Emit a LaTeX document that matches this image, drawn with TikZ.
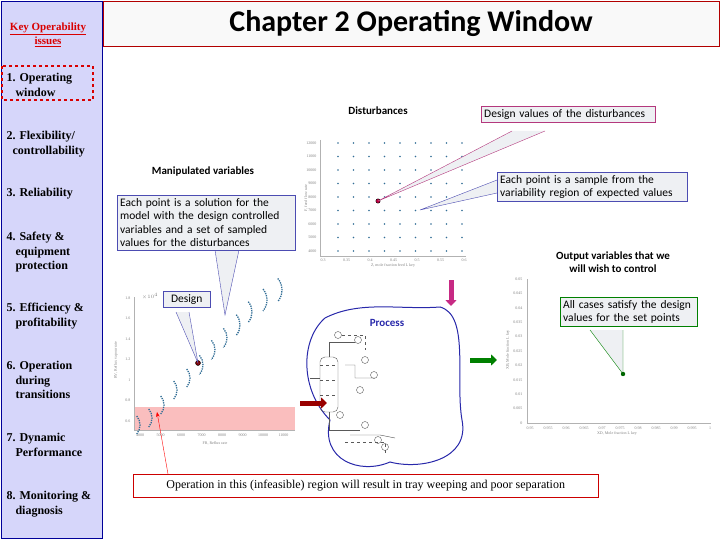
\documentclass[tikz,border=0pt]{standalone}
\usepackage{fontspec}
\setmainfont{Liberation Serif}
\newfontfamily\slidefont{Carlito}
\usetikzlibrary{shapes,positioning,arrows.meta}
\definecolor{sidebg}{RGB}{214,214,250}
\definecolor{callbg}{RGB}{238,240,243}
\definecolor{bandred}{RGB}{250,190,190}
\definecolor{procblue}{RGB}{40,40,170}
\definecolor{arcteal}{RGB}{50,110,150}
\tikzset{
  side/.style={anchor=north west,align=left,font=\fontsize{12}{14.5}\selectfont\bfseries},
  callout/.style={draw,fill=callbg,align=left,inner sep=3pt,font=\slidefont\fontsize{11.5}{14}\selectfont},
  heading/.style={font=\slidefont\bfseries\fontsize{11}{13}\selectfont,align=center},
  tick/.style={font=\fontsize{4}{4}\selectfont,text=gray},
  blockarrow/.style={-{Triangle[length=6pt,width=11pt]},line width=5pt}
}
\begin{document}
\begin{tikzpicture}[x=1pt,y=-1pt]
\useasboundingbox (0,0) rectangle (720,540);
% sidebar and title
\draw[blue!60!black,fill=sidebg] (1,1) rectangle (102,538);
\draw[red!70!black,fill=gray!5] (103,1) rectangle (719,46);
\node[font=\slidefont\bfseries\fontsize{30}{32}\selectfont] (title) at (411,23) {Chapter 2 Operating Window};
\node[red!85!black,align=center,font=\fontsize{11}{14}\selectfont\bfseries] (key) at (48,35) {\underline{Key Operability}\\\underline{issues}};
\draw[red!85!black,dashed,line width=2pt] (2,66) rectangle (93,100);
\node[side] (s1) at (3,70) {1. Operating\\\ \ \ window};
\node[side] (s2) at (3,128) {2. Flexibility/\\\ \ controllability};
\node[side] (s3) at (3,185) {3. Reliability};
\node[side] (s4) at (3,229) {4. Safety \&\\\ \ \ equipment\\\ \ \ protection};
\node[side] (s5) at (3,300) {5. Efficiency \&\\\ \ \ profitability};
\node[side] (s6) at (3,358) {6. Operation\\\ \ \ during\\\ \ \ transitions};
\node[side] (s7) at (3,430) {7. Dynamic\\\ \ \ Performance};
\node[side] (s8) at (3,488) {8. Monitoring \&\\\ \ \ diagnosis};
% disturbances plot
\node[heading] (dist) at (378,111) {Disturbances};
\draw[gray!60] (320,140) -- (320,256) -- (466,256);
\foreach \i in {0,...,8}
  \foreach \j in {0,...,8}
    \fill[arcteal] (338+\i*15.5,143+\j*13.5) circle (0.9);
\foreach \v [count=\k from 0] in {12000,11000,10000,9000,8000,7000,6000,5000,4000}
  \node[tick,anchor=east] at (320,143+\k*13.5) {\v};
\foreach \v [count=\k from 0] in {0.3,0.35,0.4,0.45,0.5,0.55,0.6}
  \node[tick] at (323+\k*23.5,260) {\v};
\node[tick] at (393,266) {Z, mole fraction feed L key};
\node[tick,rotate=90] at (306,198) {F, feed flow rate};
\fill[purple,draw=black] (378,201) circle (2.2);
\coordinate (dtip) at (378,201);
\coordinate (stip) at (420,210);
% manipulated variables
\node[heading] (manip) at (203,172) {Manipulated variables};
\coordinate (mtip) at (225,315);
\coordinate (ddot) at (198,363);
% left plot
\fill[bandred] (134,407) rectangle (295,430);
\draw[gray!60] (134,297) -- (134,430) -- (295,430);
\foreach \v [count=\k from 0] in {1.8,1.6,1.4,1.2,1,0.8,0.6}
  \node[tick,anchor=east] at (134,298+\k*20.5) {\v};
\node[tick] at (150,296) {$\times10^4$};
\foreach \v [count=\k from 0] in {4000,5000,6000,7000,8000,9000,10000,11000}
  \node[tick] at (140+\k*20.5,435) {\v};
\node[tick] at (215,443) {FR, Reflux rate};
\node[tick,rotate=90] at (116,360) {RV, Reflux vapour rate};
\foreach \x/\y/\r in {126/425/14,138/418/14,150/405/14,163/390/14,176/378/14,188/365/15,200/350/15,212/338/15,224/325/16,236/312/16,250/300/17,264/290/18}
  \draw[arcteal,densely dotted,line width=1.3pt] (\x,\y) ++(-40:\r) arc (-40:40:\r);
\fill[red!50!black,draw=black] (ddot) circle (2.5);
% callouts
\filldraw[magenta!70!black,fill=callbg] (512,131) -- (dtip) -- (545,131);
\filldraw[blue!40!gray,fill=callbg] (497,180) -- (stip) -- (497,193);
\filldraw[blue!40!gray,fill=callbg] (215,250) -- (mtip) -- (239,250);
\filldraw[blue!40!gray,fill=callbg] (176,312) -- (ddot) -- (189,312);
\filldraw[green!50!black,fill=callbg] (590,330) -- (623,374) -- (623,330);
\node[callout,draw=magenta!70!black,anchor=north west,text width=168pt] (cdes) at (481,106) {Design values of the disturbances};
\node[callout,draw=blue!40!gray,anchor=north west,text width=184pt,font=\slidefont\fontsize{11.5}{13.5}\selectfont] (csam) at (497,172) {Each point is a sample from the\\variability region of expected values};
\node[callout,draw=blue!40!gray,anchor=north west,text width=172pt,font=\slidefont\fontsize{11.5}{13.5}\selectfont] (csol) at (117,195) {Each point is a solution for the\\model with the design controlled\\variables and a set of sampled\\values for the disturbances};
\node[callout,draw=blue!40!gray,anchor=north west,text width=41pt,align=center] (cdesign) at (163,291) {Design};
\node[callout,draw=green!50!black,anchor=north west,text width=131pt,font=\slidefont\fontsize{11.5}{13.5}\selectfont] (call) at (560,297) {All cases satisfy the design\\values for the set points};
% process
\draw[procblue,line width=1pt] (325,318) .. controls (360,300) and (400,310) .. (440,307)
  .. controls (470,315) and (455,380) .. (462,420) .. controls (470,460) and (420,470) .. (390,462)
  .. controls (360,475) and (320,460) .. (330,420) .. controls (300,390) and (300,340) .. (325,318);
\node[procblue,font=\slidefont\bfseries\fontsize{11}{12}\selectfont] (proc) at (387,323) {Process};
\draw[gray!70!black,rounded corners=5pt] (320,357) rectangle (338,412);
\foreach \y in {365,380,395} \draw[gray!70!black,dashed] (320,\y) -- (338,\y);
\draw[gray!70!black] (310,378) -- (320,378) (329,357) -- (329,342) -- (355,342) (329,412) -- (329,430) -- (360,430);
\foreach \x/\y in {338/335,358/340,365/360,374/375,360/390,340/415,365/425,378/440,385/447}
  \draw[gray!70!black] (\x,\y) circle (3.5);
\draw[gray!70!black,dashed] (342,335) -- (365,335) -- (365,350) (345,442) -- (385,442) -- (385,455);
\draw[gray!70!black] (345,365) -- (355,365) -- (355,378) -- (375,378) (350,435) -- (380,435) -- (395,438);
% arrows
\draw[blockarrow,red!60!black] (300,403) -- (327,403);
\draw[blockarrow,magenta!80!black] (451,280) -- (451,306);
\draw[blockarrow,green!50!black] (470,360) -- (497,360);
% output plot
\node[heading] (out) at (613,262) {Output variables that we\\will wish to control};
\draw[gray!60] (527,279) -- (527,423) -- (711,423);
\foreach \v [count=\k from 0] in {0.05,0.045,0.04,0.035,0.03,0.025,0.02,0.015,0.01,0.005,0}
  \node[tick,anchor=east] at (526,279+\k*14.4) {\v};
\foreach \v [count=\k from 0] in {0.95,0.955,0.96,0.965,0.97,0.975,0.98,0.985,0.99,0.995,1}
  \node[tick] at (530+\k*18,428) {\v};
\node[tick] at (617,434) {XD, Mole fraction L key};
\node[tick,rotate=90] at (508,350) {XB, Mole fraction L key};
\fill[green!40!black] (623,374) circle (2.2);
% infeasible note
\node[draw=red!80!black,anchor=north west,minimum width=465pt,minimum height=23pt,font=\fontsize{12}{14}\selectfont] (note) at (133,474) {Operation in this (infeasible) region will result in tray weeping and poor separation};
\coordinate (band) at (157,412);
\draw[red,-{Stealth[length=5pt]}] (168,474) -- (band);
\end{tikzpicture}
\end{document}
